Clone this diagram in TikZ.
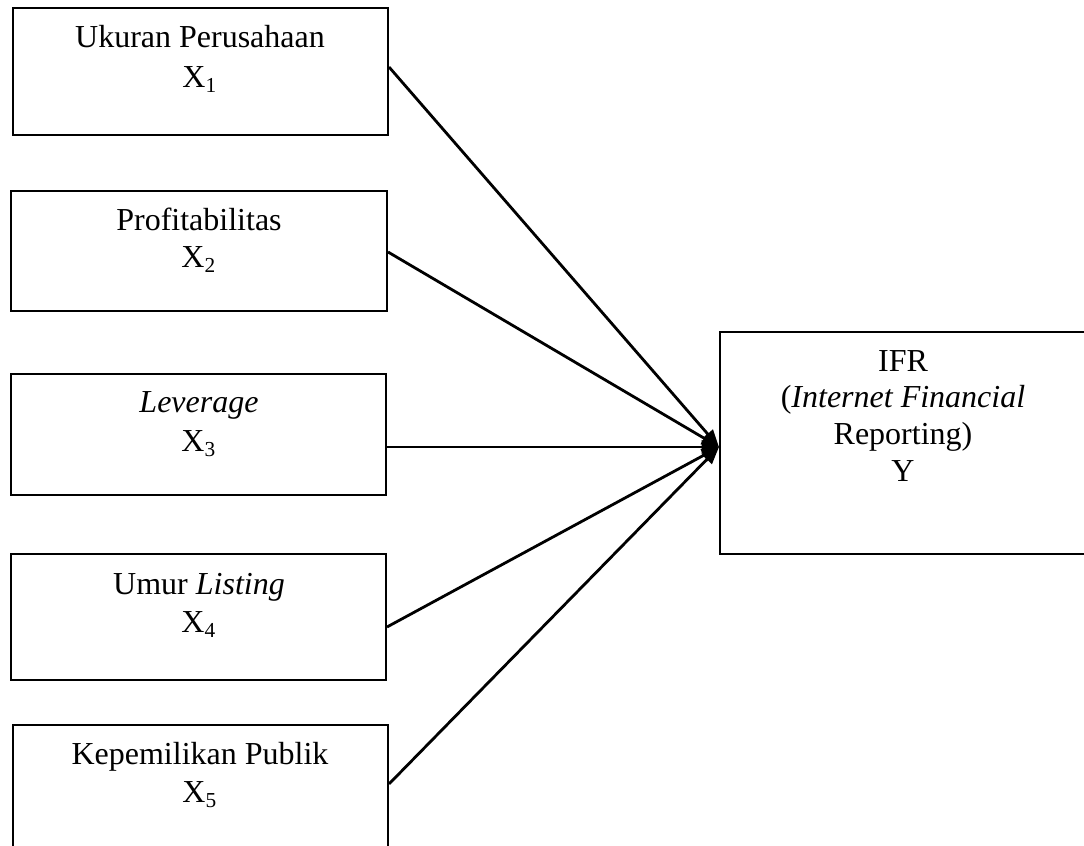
\documentclass[tikz,border=0pt]{standalone}
\usepackage{fontspec}
\setmainfont{Liberation Serif}
\usetikzlibrary{arrows.meta,fit}
\begin{document}
\begin{tikzpicture}[x=0.375pt,y=-0.375pt,
  box/.style={draw, line width=0.75pt, rectangle, inner sep=0pt},
  lbl/.style={anchor=base, font=\fontsize{12}{14}\selectfont, inner sep=0pt},
  conn/.style={line width=1.05pt, -{Triangle[length=6.5pt,width=5pt]}}]
\useasboundingbox (0,0) rectangle (1084,846);
\clip (0,0) rectangle (1084,846);
\fill[white] (0,0) rectangle (1084,846);
% boxes
\node[box, fit={(13,8) (388,135)}] (b1) {};
\node[box, fit={(11,191) (387,311)}] (b2) {};
\node[box, fit={(11,374) (386,495)}] (b3) {};
\node[box, fit={(11,554) (386,680)}] (b4) {};
\node[box, fit={(13,725) (388,880)}] (b5) {};
\node[box, fit={(720,332) (1092,554)}] (by) {};
% labels
\node[lbl] (t1a) at (200,48) {Ukuran Perusahaan};
\node[lbl] (t1b) at (200,88) {X\textsubscript{1}};
\node[lbl] (t2a) at (199,231) {Profitabilitas};
\node[lbl] (t2b) at (199,268) {X\textsubscript{2}};
\node[lbl] (t3a) at (199,413) {\textit{Leverage}};
\node[lbl] (t3b) at (199,452) {X\textsubscript{3}};
\node[lbl] (t4a) at (199,595) {Umur \textit{Listing}};
\node[lbl] (t4b) at (199,633) {X\textsubscript{4}};
\node[lbl] (t5a) at (200,765) {Kepemilikan Publik};
\node[lbl] (t5b) at (200,803) {X\textsubscript{5}};
\node[lbl] (tya) at (903,372) {IFR};
\node[lbl] (tyb) at (903,408) {(\textit{Internet Financial}};
\node[lbl] (tyc) at (903,445) {Reporting)};
\node[lbl] (tyd) at (903,482) {Y};
% connector anchors
\coordinate (y1) at (0,67);
\coordinate (y2) at (0,252);
\coordinate (y4) at (0,627);
\coordinate (y5) at (0,784);
\coordinate (ty) at (0,447);
\coordinate (tip) at (by.west |- ty);
\draw[conn] (b1.east |- y1) -- (tip);
\draw[conn] (b2.east |- y2) -- (tip);
\draw[conn] (b3.east |- ty) -- (tip);
\draw[conn] (b4.east |- y4) -- (tip);
\draw[conn] (b5.east |- y5) -- (tip);
\end{tikzpicture}
\end{document}
